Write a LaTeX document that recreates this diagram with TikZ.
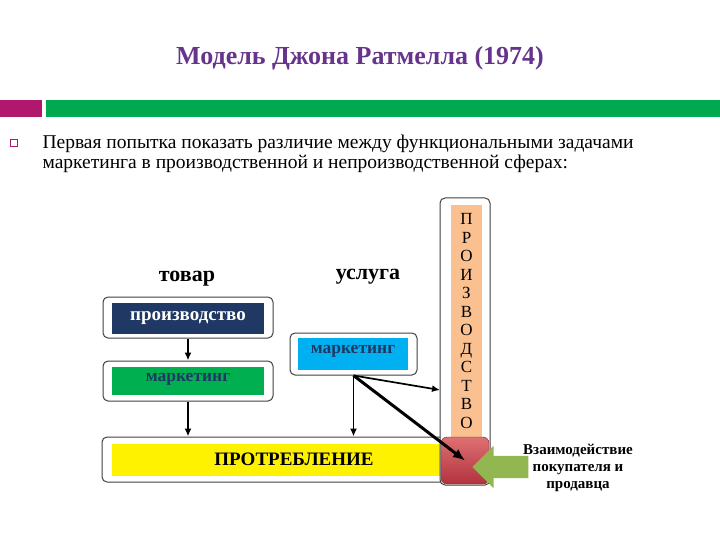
\documentclass[tikz,border=0pt]{standalone}
\usepackage{fontspec}
\setmainfont{Liberation Serif}
\usepackage{xcolor}
\usetikzlibrary{positioning,shapes.arrows,arrows.meta}
\definecolor{colorTitle}{RGB}{102,52,140}
\definecolor{colorMag}{RGB}{176,24,110}
\definecolor{colorBar}{RGB}{0,168,80}
\definecolor{colorNavy}{RGB}{31,56,100}
\definecolor{colorGreen}{RGB}{0,176,80}
\definecolor{colorCyan}{RGB}{0,176,240}
\definecolor{colorPeach}{RGB}{250,192,144}
\definecolor{colorOlive}{RGB}{146,182,80}
\definecolor{colorRedTop}{RGB}{222,112,114}
\definecolor{colorRedBot}{RGB}{178,50,62}

\begin{document}
\begin{tikzpicture}[x=1pt, y=-1pt,
		frame/.style={draw=black!75, line width=1pt, rounded corners=5pt, fill=white},
		inbox/.style={inner sep=0pt},
		label/.style={font=\bfseries\fontsize{19}{22}\selectfont},
		arr/.style={-{Latex[length=8pt,width=7pt]}, line width=1.7pt},
	]
	\useasboundingbox (0,0) rectangle (720,540);
	% header
	\node[text=colorTitle, font=\bfseries\fontsize{26}{30}\selectfont] (title) at (360,58) {Модель Джона Ратмелла (1974)};
	\fill[colorMag] (0,100) rectangle (42,117);
	\fill[colorBar] (46,100) rectangle (720,117);
	\draw[colorMag, line width=0.6pt] (10,139) rectangle (17,146);
	\node[anchor=north west, align=left, font=\fontsize{19.5}{20}\selectfont] (intro) at (39,131)
		{Первая попытка показать различие между функциональными задачами\\
		маркетинга в производственной и непроизводственной сферах:};
	%
	\node[font=\bfseries\fontsize{22}{24}\selectfont] (goods) at (187,279) {товар};
	\node[font=\bfseries\fontsize{22}{24}\selectfont] (serv) at (368,277) {услуга};
	%
	\node[frame, minimum width=170pt, minimum height=41pt] (prodframe) at (188,317.5) {};
	\node[inbox, fill=colorNavy, text=white, label, minimum width=152pt, minimum height=31pt] (prod) at (188,318.5) {производство};
	\node[frame, minimum width=170pt, minimum height=40pt] (mktframe) at (188,381) {};
	\node[inbox, fill=colorGreen, minimum width=152pt, minimum height=28pt] (mkt) at (188,381) {};
	\node[text=colorNavy, font=\bfseries\fontsize{17.5}{20}\selectfont] (mkttext) at (188,379) {маркетинг};
	\node[frame, minimum width=127pt, minimum height=42pt] (servframe) at (353.5,354) {};
	\node[inbox, fill=colorCyan, minimum width=110pt, minimum height=32pt] (servmkt) at (353,354) {};
	\node[text=colorNavy, font=\bfseries\fontsize{17.5}{20}\selectfont] (servtext) at (353,351) {маркетинг};
	%
	\node[frame, minimum width=380pt, minimum height=45pt] (consframe) at (292,459.5) {};
	\node[inbox, fill=yellow, minimum width=328pt, minimum height=32pt, font=\bfseries\fontsize{19}{22}\selectfont] (cons) at (276,459.5) {\hspace*{36pt}ПРОТРЕБЛЕНИЕ};
	%
	\node[frame, minimum width=50pt, minimum height=287pt] (col) at (465,341.5) {};
	\node[inbox, fill=colorPeach, minimum width=31pt, minimum height=232pt, align=center,
		font=\fontsize{17}{18.5}\selectfont] (colword) at (466.5,321)
		{П\\Р\\О\\И\\З\\В\\О\\Д\\С\\Т\\В\\О};
	\node[draw=colorRedBot!70!black, rounded corners=6pt, top color=colorRedTop, bottom color=colorRedBot,
		minimum width=48pt, minimum height=47pt] (meet) at (465,460.5) {};
	%
	\node[single arrow, fill=colorOlive, shape border rotate=180, minimum height=56pt,
		inner sep=11pt, single arrow head extend=10pt] (push) at (506,467) {};
	\node[align=center, font=\bfseries\fontsize{15}{17}\selectfont] (interact) at (578,468)
		{Взаимодействие\\покупателя и\\продавца};
	%
	\coordinate (touch) at (440,390);
	\draw[arr] (prodframe.south) -- (mktframe.north);
	\draw[arr] (mktframe.south) -- (mktframe.south |- consframe.north);
	\draw[arr] (servframe.south) -- (servframe.south |- consframe.north);
	\draw[arr] (servframe.south) -- (touch);
	\draw[-{Latex[length=12pt,width=10pt]}, line width=3pt] (servframe.south) -- (meet.center);
\end{tikzpicture}
\end{document}
